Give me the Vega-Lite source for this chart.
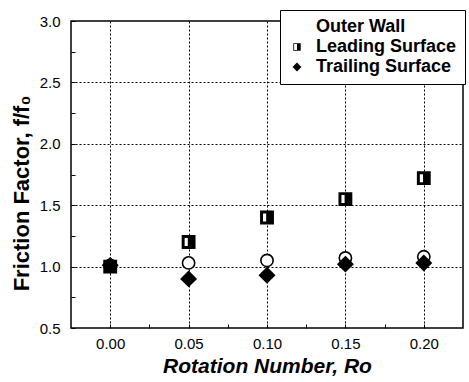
{
  "$schema": "https://vega.github.io/schema/vega-lite/v6.json",
  "autosize": "none",
  "width": 392,
  "height": 307,
  "padding": {"left": 71, "top": 21, "right": 6, "bottom": 54},
  "background": "white",
  "config": {
    "view": {"stroke": "black", "strokeWidth": 1.5},
    "font": "Liberation Sans",
    "axis": {
      "labelFont": "Liberation Sans",
      "labelFontSize": 15,
      "labelColor": "black",
      "titleFont": "Liberation Sans",
      "titleFontWeight": "bold",
      "titleColor": "black",
      "domain": false,
      "tickColor": "black",
      "tickSize": -4,
      "tickWidth": 1,
      "gridColor": "black",
      "gridDash": [2, 2],
      "gridWidth": 1
    }
  },
  "data": {
    "values": [
      {"Ro": 0.00, "f": 1.01, "series": "Outer Wall"},
      {"Ro": 0.05, "f": 1.03, "series": "Outer Wall"},
      {"Ro": 0.10, "f": 1.05, "series": "Outer Wall"},
      {"Ro": 0.15, "f": 1.07, "series": "Outer Wall"},
      {"Ro": 0.20, "f": 1.08, "series": "Outer Wall"},
      {"Ro": 0.00, "f": 1.00, "series": "Leading Surface"},
      {"Ro": 0.05, "f": 1.20, "series": "Leading Surface"},
      {"Ro": 0.10, "f": 1.40, "series": "Leading Surface"},
      {"Ro": 0.15, "f": 1.55, "series": "Leading Surface"},
      {"Ro": 0.20, "f": 1.72, "series": "Leading Surface"},
      {"Ro": 0.00, "f": 1.01, "series": "Trailing Surface"},
      {"Ro": 0.05, "f": 0.90, "series": "Trailing Surface"},
      {"Ro": 0.10, "f": 0.93, "series": "Trailing Surface"},
      {"Ro": 0.15, "f": 1.02, "series": "Trailing Surface"},
      {"Ro": 0.20, "f": 1.03, "series": "Trailing Surface"}
    ]
  },
  "encoding": {
    "x": {
      "field": "Ro",
      "type": "quantitative",
      "scale": {"domain": [-0.025, 0.225], "nice": false, "zero": false},
      "axis": {
        "title": "Rotation Number, Ro",
        "titleFontStyle": "italic",
        "titleFontSize": 21,
        "titlePadding": 4,
        "values": [0, 0.025, 0.05, 0.075, 0.1, 0.125, 0.15, 0.175, 0.2],
        "labelExpr": "abs(datum.value*20 - round(datum.value*20)) < 0.001 ? format(datum.value, '.2f') : ''",
        "labelPadding": 12,
        "gridOpacity": {"condition": {"test": "abs(datum.value*20 - round(datum.value*20)) < 0.001", "value": 1}, "value": 0}
      }
    },
    "y": {
      "field": "f",
      "type": "quantitative",
      "scale": {"domain": [0.5, 3.0], "nice": false, "zero": false},
      "axis": {
        "title": "Friction Factor, f/f₀",
        "titleFontSize": 22,
        "titlePadding": 6,
        "titleY": 172,
        "values": [0.5, 0.75, 1.0, 1.25, 1.5, 1.75, 2.0, 2.25, 2.5, 2.75, 3.0],
        "labelExpr": "abs(datum.value*2 - round(datum.value*2)) < 0.001 ? format(datum.value, '.1f') : ''",
        "labelPadding": 15,
        "gridOpacity": {"condition": {"test": "abs(datum.value*2 - round(datum.value*2)) < 0.001 && datum.value > 0.6 && datum.value < 2.9", "value": 1}, "value": 0}
      }
    }
  },
  "layer": [
    {
      "transform": [{"filter": "datum.series === 'Leading Surface'"}],
      "mark": {"type": "point", "shape": "square", "filled": true, "fill": "white", "size": 144, "opacity": 1}
    },
    {
      "mark": {"type": "point", "filled": true, "stroke": "black", "strokeWidth": 1.6, "size": 150, "opacity": 1},
      "encoding": {
        "shape": {
          "field": "series",
          "type": "nominal",
          "scale": {
            "domain": ["Outer Wall", "Leading Surface", "Trailing Surface"],
            "range": ["circle", "M-1,-1H1V1H-1Z M-0.78,-0.78V0.78H0V-0.78Z", "M0,-1.2L1.2,0L0,1.2L-1.2,0Z"]
          },
          "legend": {
            "title": null,
            "orient": "none",
            "legendX": 209,
            "legendY": -11,
            "padding": 8,
            "fillColor": "white",
            "strokeColor": "black",
            "labelFont": "Liberation Sans",
            "labelFontSize": 18,
            "labelFontWeight": "bold",
            "labelColor": "black",
            "labelOffset": 10,
            "symbolSize": 55,
            "symbolStrokeWidth": 1.5,
            "symbolStrokeColor": "black",
            "rowPadding": 2,
            "encode": {
              "symbols": {"update": {
                "stroke": {"value": "black"},
                "fill": {"signal": "datum.value === 'Outer Wall' ? 'white' : 'black'"}
              }}
            }
          }
        },
        "fill": {
          "field": "series",
          "type": "nominal",
          "scale": {
            "domain": ["Outer Wall", "Leading Surface", "Trailing Surface"],
            "range": ["white", "black", "black"]
          },
          "legend": null
        }
      }
    }
  ]
}
